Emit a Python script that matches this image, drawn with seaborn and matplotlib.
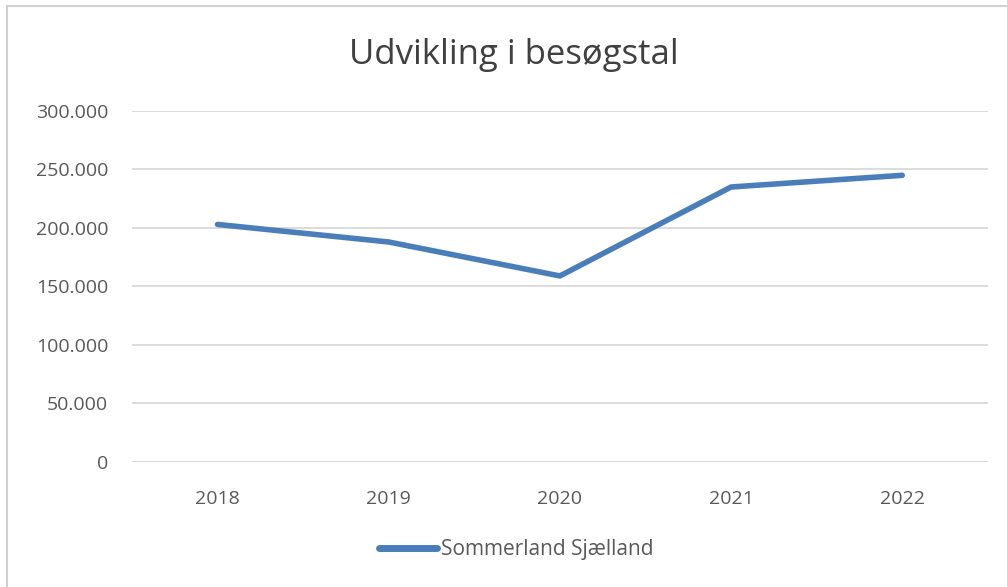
import matplotlib
matplotlib.use("Agg")
import matplotlib.pyplot as plt
import matplotlib.ticker as mticker
import pandas as pd
import seaborn as sns
from matplotlib.patches import Rectangle

# data
years = ["2018", "2019", "2020", "2021", "2022"]
visitors = [203000, 188000, 159000, 235000, 245000]
series_name = "Sommerland Sjælland"
title = "Udvikling i besøgstal"

df = pd.DataFrame({"year": years, "visitors": visitors, "series": series_name})

sns.set_theme(style="white")
plt.rcParams["font.family"] = ["Open Sans", "DejaVu Sans"]

fig = plt.figure(figsize=(10.07, 5.87), dpi=100)
ax = fig.add_axes([0.131, 0.213, 0.850, 0.598])

sns.lineplot(data=df, x="year", y="visitors", hue="series", sort=False,
             palette=["#4a7ebb"], linewidth=4, ax=ax,
             solid_capstyle="round", solid_joinstyle="round")

ax.set_xlim(-0.5, len(years) - 0.5)
ax.set_ylim(0, 300000)
ax.set_yticks(range(0, 300001, 50000))
ax.yaxis.set_major_formatter(
    mticker.FuncFormatter(lambda v, p: f"{int(v):,}".replace(",", ".")))
ax.grid(axis="y", color="#d9d9d9", linewidth=1.3)
ax.set_axisbelow(True)
for s in ax.spines.values():
    s.set_visible(False)
ax.set_xlabel("")
ax.set_ylabel("")
ax.tick_params(axis="both", colors="#595959", labelsize=14, length=0)
ax.tick_params(axis="y", pad=17)
ax.tick_params(axis="x", pad=20)

fig.text(0.510, 0.907, title, ha="center", va="center",
         fontsize=25, color="#404040", family=["Open Sans", "DejaVu Sans"])

handles, labels = ax.get_legend_handles_labels()
for h in handles:
    h.set_linewidth(5)
ax.legend(handles, labels, loc="center", bbox_to_anchor=(0.449, -0.25),
          frameon=False, fontsize=15, handlelength=2.8, handletextpad=0.2,
          labelcolor="#595959")

# light frame around the chart area
fig.patches.append(Rectangle((0.007, -0.01), 1.2, 1.0, transform=fig.transFigure,
                             fill=False, edgecolor="#d0d0d0", linewidth=1.5))

fig.savefig("out.png", dpi=100)
